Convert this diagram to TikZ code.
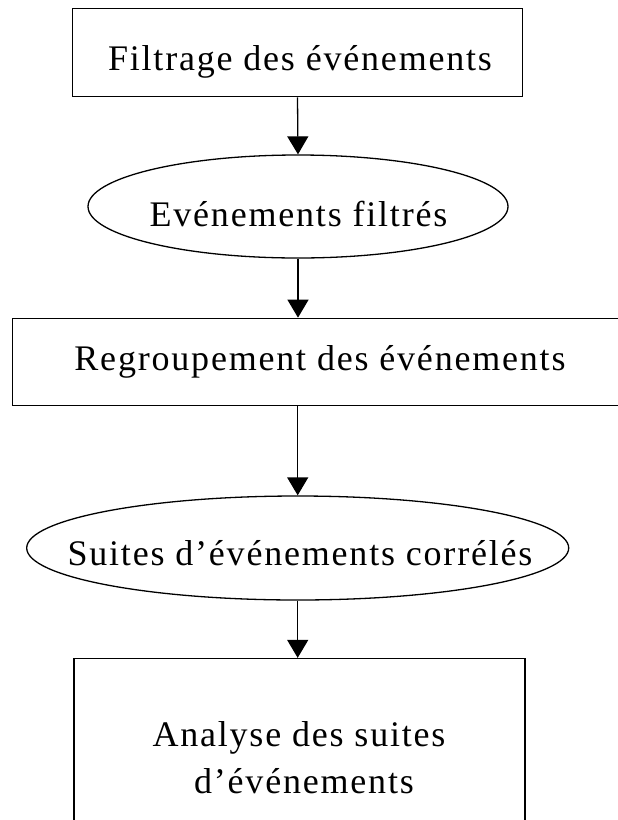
\documentclass[tikz,border=0pt]{standalone}
\usepackage{fontspec}
\setmainfont{Liberation Serif}[LetterSpace=5,Ligatures={NoCommon}]
\usetikzlibrary{arrows.meta,shapes.geometric}

\begin{document}
\begin{tikzpicture}[x=1pt,y=-1pt,
  stepbox/.style={draw,line width=1.3pt,rectangle,inner sep=0pt},
  oval/.style={draw,line width=1.3pt,ellipse,inner sep=0pt},
  lbl/.style={anchor=base,inner sep=0pt,font=\fontsize{36}{44}\selectfont},
  arr/.style={line width=1.3pt,-{Triangle[width=21pt,length=18pt]}}]
\useasboundingbox (0,0) rectangle (618,820);
\fill[white] (0,0) rectangle (618,820);

% process boxes and data ovals
\node[stepbox,minimum width=450.4pt,minimum height=88.6pt] (b1) at (297.5,52.5) {};
\node[oval,minimum width=420pt,minimum height=103pt] (e1) at (298,206.5) {};
\node[stepbox,minimum width=617.7pt,minimum height=87.4pt] (b2) at (321.2,362) {};
\node[oval,minimum width=542pt,minimum height=104pt] (e2) at (297.7,548) {};
\node[stepbox,minimum width=451pt,minimum height=163.5pt] (b3) at (299.5,740.25) {};

% labels
\node[lbl] (t1) at (300,70.7) {Filtrage des événements};
\node[lbl] (t2) at (298.5,226) {Evénements filtrés};
\node[lbl] (t3) at (320,370) {Regroupement des événements};
\node[lbl] (t4) at (300,565) {Suites d’événements corrélés};
\node[lbl] (t5) at (299,746.7) {Analyse des suites};
\node[lbl] (t6) at (304,793) {d’événements};

% flow
\draw[arr] (b1.south) -- (e1.north);
\draw[arr] (e1.south) -- (e1.south |- b2.north);
\draw[arr] (b2.south -| e2.north) -- (e2.north);
\draw[arr] (e2.south) -- (e2.south |- b3.north);
\end{tikzpicture}
\end{document}
